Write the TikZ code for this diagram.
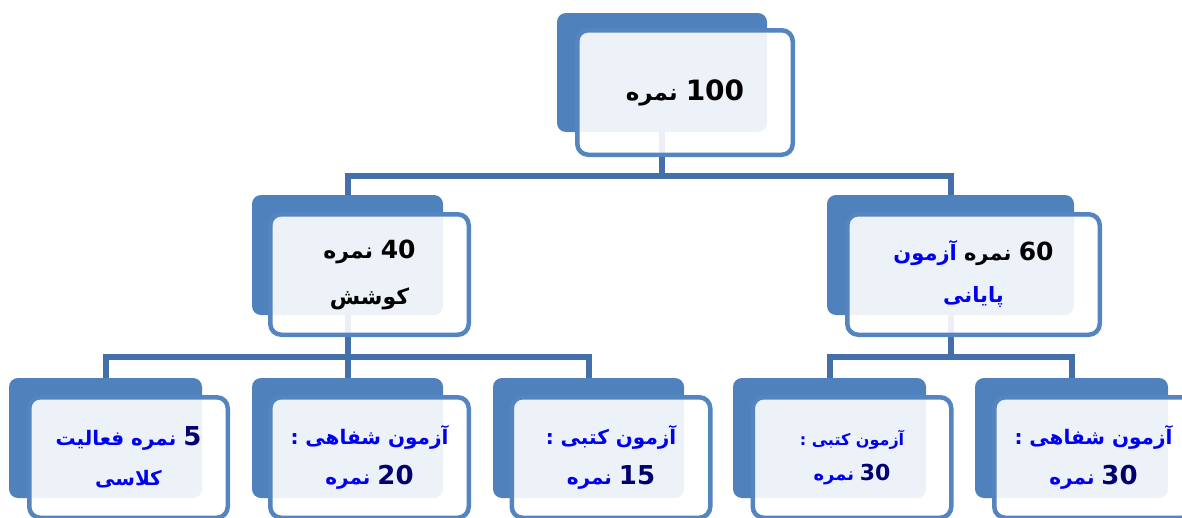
\documentclass[tikz,border=0pt]{standalone}
\usepackage{fontspec}
\newfontfamily\fa[Script=Arabic]{DejaVu Sans}
\TeXXeTstate=1
\definecolor{bk}{HTML}{4F81BD}
\definecolor{cn}{HTML}{4470AA}
\definecolor{fr}{HTML}{5585C1}
\definecolor{tb}{HTML}{0000F0}
\definecolor{nv}{HTML}{000070}
\newcommand\fline[1]{\beginR#1\endR}
% digits: colour, size, text
\newcommand\dg[3]{\beginL{\fontsize{#2}{10}\selectfont\textcolor{#1}{#3}}\endL{}}
% coloured Persian run inside an RTL line
\newcommand\fcol[2]{\beginL\textcolor{#1}{\beginR#2\endR}\endL{}}
\tikzset{
  backbox/.style={fill=bk, rounded corners=9pt, inner sep=0pt, outer sep=0pt},
  frontbox/.style={draw=fr, line width=4.5pt, fill=white, fill opacity=0.9, text opacity=1,
    rounded corners=11pt, inner sep=0pt, outer sep=0pt, align=center},
  fs/.style 2 args={font=\fa\bfseries\fontsize{#1}{#2}\selectfont},
  conn/.style={draw=cn, line width=6pt},
}
\begin{document}
\begin{tikzpicture}[x=1pt,y=-1pt]
\useasboundingbox (0,0) rectangle (1182,517);
% back boxes
\node[backbox, minimum width=210, minimum height=119] (b0) at (662,72.5) {};
\node[backbox, minimum width=191, minimum height=120] (b1) at (347.5,255) {};
\node[backbox, minimum width=247, minimum height=120] (b2) at (950.5,255) {};
\node[backbox, minimum width=193, minimum height=120] (b3) at (105.5,438) {};
\node[backbox, minimum width=191, minimum height=120] (b4) at (347.5,438) {};
\node[backbox, minimum width=191, minimum height=120] (b5) at (588.5,438) {};
\node[backbox, minimum width=193, minimum height=120] (b6) at (829.5,438) {};
\node[backbox, minimum width=193, minimum height=120] (b7) at (1071.5,438) {};
% connectors
\draw[conn] (b0.south) -- ++(0,44) -| (b1.north);
\draw[conn] (b0.south) -- ++(0,44) -| (b2.north);
\draw[conn] (b1.south) -- ++(0,42) -| (b3.north);
\draw[conn] (b1.south) -- (b4.north);
\draw[conn] (b1.south) -- ++(0,42) -| (b5.north);
\draw[conn] (b2.south) -- ++(0,42) -| (b6.north);
\draw[conn] (b2.south) -- ++(0,42) -| (b7.north);
% front boxes
\node[frontbox, fs={23}{42}, minimum width=215.5, minimum height=124.5] (f0) at (685,92.5)
  {\fline{\dg{black}{28}{100} نمره}};
\node[frontbox, fs={22}{46}, minimum width=198.5, minimum height=120.5] (f1) at (369.5,274.5)
  {\fline{\dg{black}{25}{40} نمره}\\\fline{کوشش}};
\node[frontbox, fs={21}{42}, minimum width=252.5, minimum height=120.5] (f2) at (973.5,274.5)
  {\fline{\dg{black}{25}{60} نمره \fcol{tb}{آزمون}}\\\textcolor{tb}{\fline{پایانی}}};
\node[frontbox, fs={20}{40}, minimum width=198.5, minimum height=120.5, text=tb] (f3) at (128.5,457.5)
  {\fline{\dg{nv}{26}{5} نمره فعالیت}\\\fline{کلاسی}};
\node[frontbox, fs={20}{40}, minimum width=198.5, minimum height=120.5, text=tb] (f4) at (369.5,457.5)
  {\fline{آزمون شفاهی :}\\\fline{\dg{nv}{26}{20} نمره}};
\node[frontbox, fs={20}{40}, minimum width=198.5, minimum height=120.5, text=tb] (f5) at (611,457.5)
  {\fline{آزمون کتبی :}\\\fline{\dg{nv}{26}{15} نمره}};
\node[frontbox, fs={16}{35}, minimum width=198.5, minimum height=120.5, text=tb] (f6) at (852,457.5)
  {\fline{آزمون کتبی :}\\\fline{\dg{nv}{22}{30} {\fontsize{18}{35}\selectfont نمره}}};
\node[frontbox, fs={20}{40}, minimum width=198.5, minimum height=120.5, text=tb] (f7) at (1093.5,457.5)
  {\fline{آزمون شفاهی :}\\\fline{\dg{nv}{26}{30} نمره}};
\end{tikzpicture}
\end{document}
